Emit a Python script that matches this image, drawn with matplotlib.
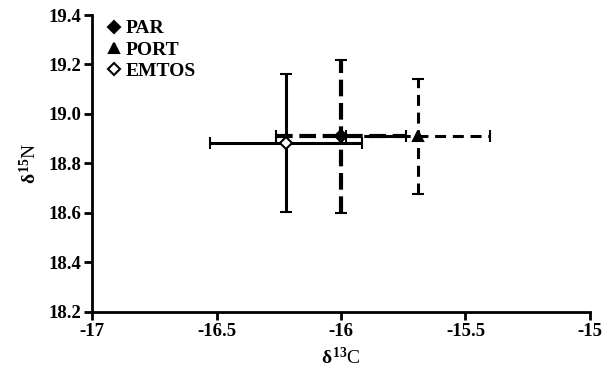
import matplotlib
matplotlib.use("Agg")
from matplotlib import pyplot as plt

plt.rcParams['font.family'] = 'Liberation Serif'
plt.rcParams['font.weight'] = 'bold'
plt.rcParams['mathtext.fontset'] = 'custom'
plt.rcParams['mathtext.rm'] = 'Liberation Serif:bold'
plt.rcParams['mathtext.it'] = 'Liberation Serif:bold'
plt.rcParams['mathtext.bf'] = 'Liberation Serif:bold'

groups = ['PAR', 'PORT', 'EMTOS']
d13c = [-16.00, -15.69, -16.22]
d13c_err = [0.26, 0.29, 0.305]
d15n = [18.91, 18.91, 18.883]
d15n_err = [0.31, 0.232, 0.278]

markers = ['D', '^', 'D']
faces = ['black', 'black', 'white']
sizes = [6.5, 7.5, 6]
widths = [3, 2.2, 2.2]
dashes = [(4.0, 1.6), (3.6, 2.2), None]

fig = plt.figure(figsize=(6.03, 3.75), dpi=100)
ax = fig.add_axes([0.1526, 0.1688, 0.8258, 0.7912])

for i, name in enumerate(groups):
    eb = ax.errorbar(d13c[i], d15n[i], xerr=d13c_err[i], yerr=d15n_err[i],
                     fmt=markers[i], color='black', mfc=faces[i], mec='black',
                     mew=1.5, ms=sizes[i], elinewidth=widths[i], capsize=4,
                     capthick=2.2, label=name, zorder=3)
    if dashes[i] is not None:
        for lc in eb[2]:
            lc.set_linestyle((0, dashes[i]))

ax.set_xlim(-17, -15)
ax.set_ylim(18.2, 19.4)
ax.set_xticks([-17, -16.5, -16, -15.5, -15])
ax.set_xticklabels(['-17', '-16.5', '-16', '-15.5', '-15'])
ax.set_yticks([18.2, 18.4, 18.6, 18.8, 19.0, 19.2, 19.4])
ax.set_yticklabels(['18.2', '18.4', '18.6', '18.8', '19.0', '19.2', '19.4'])

for s in ['top', 'right']:
    ax.spines[s].set_visible(False)
for s in ['left', 'bottom']:
    ax.spines[s].set_linewidth(2)
ax.tick_params(direction='out', length=6, width=2, labelsize=13.5, pad=2)

ax.set_xlabel(r'$\delta^{13}$C', fontsize=14, labelpad=5)
ax.set_ylabel(r'$\delta^{15}$N', fontsize=14, labelpad=6)

handles, labels = ax.get_legend_handles_labels()
handles = [h[0] for h in handles]
ax.legend(handles, labels, loc='upper left', frameon=False, fontsize=14,
          handlelength=0.8, handletextpad=0.2, labelspacing=0.18,
          borderaxespad=0.0, bbox_to_anchor=(0.012, 1.01))

fig.savefig('out.png', dpi=100)
